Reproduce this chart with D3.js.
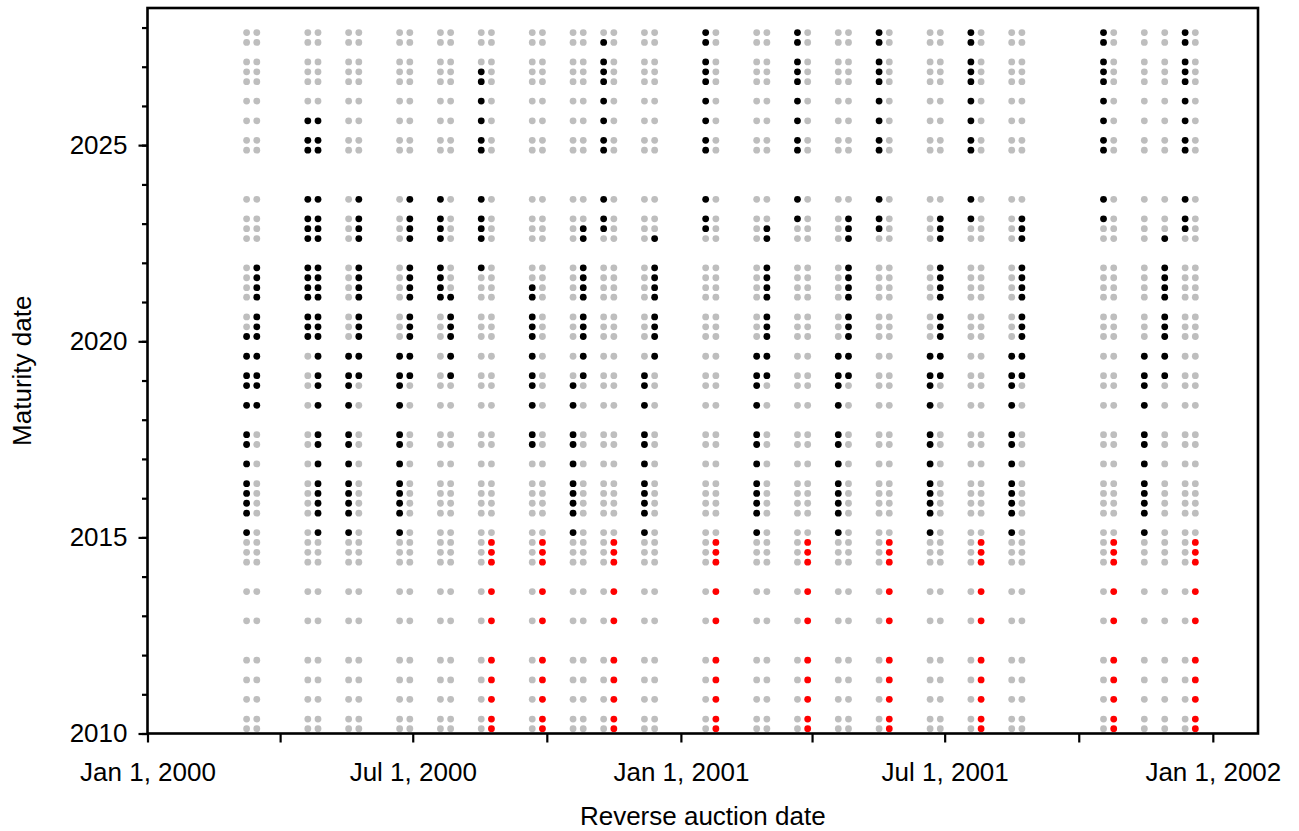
<!DOCTYPE html>
<html><head><meta charset="utf-8">
<script src="https://cdn.jsdelivr.net/npm/d3@7"></script>
<style>
body{margin:0;background:#fff}
text{font-family:"Liberation Sans",Arial,Helvetica,sans-serif}
</style>
</head><body>
<svg id="chart" width="1299" height="831"></svg>
<script>
// Bond maturity dates (y)
const maturities = [
  "2010-02-15","2010-05-15","2010-11-15","2011-05-15","2011-11-15","2012-11-15","2013-08-15",
  "2014-05-15","2014-08-15","2014-11-15","2015-02-15","2015-08-15","2015-11-15","2016-02-15",
  "2016-05-15","2016-11-15","2017-05-15","2017-08-15","2018-05-15","2018-11-15","2019-02-15",
  "2019-08-15","2020-02-15","2020-05-15","2020-08-15","2021-02-15","2021-05-15","2021-08-15",
  "2021-11-15","2022-08-15","2022-11-15","2023-02-15","2023-08-15","2024-11-15","2025-02-15",
  "2025-08-15","2026-02-15","2026-08-15","2026-11-15","2027-02-15","2027-08-15","2027-11-15"
];
// Reverse auction dates (x)
const auctionDates = [
  "2000-03-09","2000-03-16","2000-04-20","2000-04-27","2000-05-18","2000-05-25","2000-06-22",
  "2000-06-29","2000-07-20","2000-07-27","2000-08-17","2000-08-24","2000-09-21","2000-09-28",
  "2000-10-19","2000-10-26","2000-11-09","2000-11-16","2000-12-07","2000-12-14","2001-01-18",
  "2001-01-25","2001-02-22","2001-03-01","2001-03-22","2001-03-29","2001-04-19","2001-04-26",
  "2001-05-17","2001-05-24","2001-06-21","2001-06-28","2001-07-19","2001-07-26","2001-08-16",
  "2001-08-23","2001-10-18","2001-10-25","2001-11-15","2001-11-29","2001-12-13","2001-12-20"
];
// Eligible maturity range per auction (lowest, highest) and its kind
const rangeLow = [
  "2015-02-15","2018-05-15","2020-02-15","2015-02-15","2015-02-15","2019-02-15","2015-02-15",
  "2019-02-15","2021-02-15","2019-02-15","2021-11-15","2010-02-15","2017-05-15","2010-02-15",
  "2015-02-15","2019-02-15","2022-11-15","2010-02-15","2015-02-15","2019-08-15","2022-11-15",
  "2010-02-15","2015-02-15","2019-02-15","2023-02-15","2010-02-15","2015-02-15","2019-02-15",
  "2022-11-15","2010-02-15","2015-02-15","2019-02-15","2023-02-15","2010-02-15","2015-02-15",
  "2019-02-15","2023-02-15","2010-02-15","2015-02-15","2019-02-15","2022-11-15","2010-02-15"
];
const rangeHigh = [
  "2020-02-15","2021-11-15","2025-08-15","2025-08-15","2019-08-15","2023-08-15","2019-08-15",
  "2023-08-15","2023-08-15","2021-02-15","2026-11-15","2014-11-15","2021-05-15","2014-11-15",
  "2018-11-15","2022-11-15","2027-08-15","2014-11-15","2019-02-15","2022-08-15","2027-11-15",
  "2014-11-15","2019-08-15","2022-11-15","2027-11-15","2014-11-15","2019-08-15","2023-02-15",
  "2027-11-15","2014-11-15","2019-08-15","2023-02-15","2027-11-15","2014-11-15","2019-08-15",
  "2023-02-15","2027-11-15","2014-11-15","2019-08-15","2022-08-15","2027-11-15","2014-11-15"
];
const rangeKind = [
  "bond","bond","bond","bond","bond","bond","bond","bond","bond","bond","bond","callable",
  "bond","callable","bond","bond","bond","callable","bond","bond","bond","callable",
  "bond","bond","bond","callable","bond","bond","bond","callable","bond","bond","bond","callable",
  "bond","bond","bond","callable","bond","bond","bond","callable"
];
const xTickDates = ["2000-01-01","2000-04-01","2000-07-01","2000-10-01","2001-01-01","2001-04-01","2001-07-01","2001-10-01","2002-01-01"];
const xTickLabels = ["Jan 1, 2000","","Jul 1, 2000","","Jan 1, 2001","","Jul 1, 2001","","Jan 1, 2002"];
const yMajorTicks = ["2010-01-01","2015-01-01","2020-01-01","2025-01-01"];
const yMajorLabels = ["2010","2015","2020","2025"];
const yMinorTicks = ["2010-01-01","2011-01-01","2012-01-01","2013-01-01","2014-01-01","2015-01-01","2016-01-01",
  "2017-01-01","2018-01-01","2019-01-01","2020-01-01","2021-01-01","2022-01-01","2023-01-01","2024-01-01",
  "2025-01-01","2026-01-01","2027-01-01","2028-01-01"];
const kindColor = {bond:"#000000", callable:"#ff0000", none:"#bebebe"};

const parse = d3.timeParse("%Y-%m-%d");
const L = 147.5, R = 1258, T = 8, B = 733.5;
const svg = d3.select("#chart");

const x = d3.scaleTime().domain([parse("2000-01-01"), parse("2002-02-01")]).range([L, R]);
const y = d3.scaleTime().domain([parse("2010-01-01"), parse("2028-07-01")]).range([B, T]);

// points
const pts = [];
auctionDates.forEach((a, i) => {
  maturities.forEach(m => {
    const on = m >= rangeLow[i] && m <= rangeHigh[i];
    pts.push({a: parse(a), m: parse(m), kind: on ? rangeKind[i] : "none"});
  });
});
svg.append("g").selectAll("circle")
  .data(pts.sort((p, q) => (p.kind === "none" ? 0 : 1) - (q.kind === "none" ? 0 : 1)))
  .join("circle")
  .attr("cx", d => x(d.a)).attr("cy", d => y(d.m)).attr("r", 3.4)
  .attr("fill", d => kindColor[d.kind]);

// x axis
const xa = svg.append("g").attr("transform", `translate(0,${B})`)
  .call(d3.axisBottom(x).tickValues(xTickDates.map(parse)).tickSize(9).tickPadding(20)
    .tickFormat((d, i) => xTickLabels[i]));
xa.select(".domain").remove();
xa.selectAll("line").attr("stroke", "#000").attr("stroke-width", 2.2);
xa.selectAll("text").attr("font-size", 26).attr("fill", "#000")
  .attr("font-family", "'Liberation Sans', Arial, sans-serif");

// y axis minor
const ym = svg.append("g").attr("transform", `translate(${L},0)`)
  .call(d3.axisLeft(y).tickValues(yMinorTicks.map(parse)).tickSize(5.5).tickFormat(""));
ym.select(".domain").remove();
ym.selectAll("line").attr("stroke", "#000").attr("stroke-width", 2.2);

// y axis major
const ya = svg.append("g").attr("transform", `translate(${L},0)`)
  .call(d3.axisLeft(y).tickValues(yMajorTicks.map(parse)).tickSize(9).tickPadding(11)
    .tickFormat((d, i) => yMajorLabels[i]));
ya.select(".domain").remove();
ya.selectAll("line").attr("stroke", "#000").attr("stroke-width", 2.2);
ya.selectAll("text").attr("font-size", 26).attr("fill", "#000")
  .attr("font-family", "'Liberation Sans', Arial, sans-serif");

// frame
svg.append("rect").attr("x", L).attr("y", T).attr("width", R - L).attr("height", B - T)
  .attr("fill", "none").attr("stroke", "#000").attr("stroke-width", 2.6);

// titles
svg.append("text").attr("x", (L + R) / 2).attr("y", 825).attr("text-anchor", "middle")
  .attr("font-size", 26).text("Reverse auction date");
svg.append("text").attr("transform", `translate(31,${(T + B) / 2}) rotate(-90)`)
  .attr("text-anchor", "middle").attr("font-size", 26).text("Maturity date");
</script>
</body></html>
